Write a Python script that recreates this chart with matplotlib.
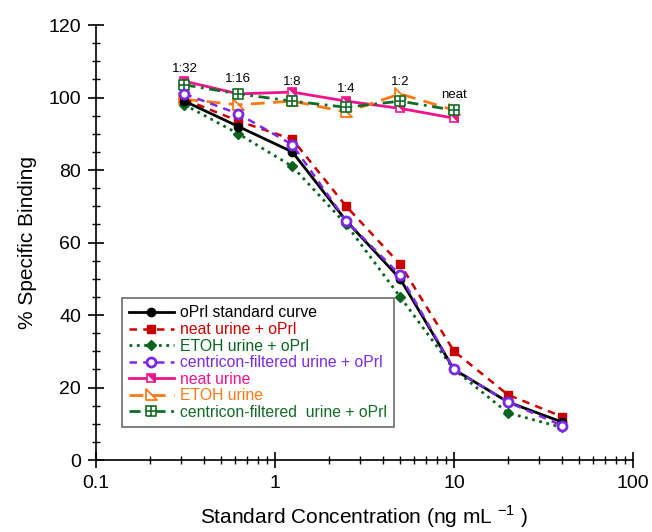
import numpy as np
import matplotlib
matplotlib.use('Agg')
import matplotlib.pyplot as plt
from matplotlib.path import Path
from matplotlib.legend_handler import HandlerTuple
from matplotlib.ticker import MultipleLocator, LogLocator, NullFormatter, FixedLocator, FixedFormatter

plt.rcParams['font.family'] = ['Liberation Sans', 'DejaVu Sans']
plt.rcParams['mathtext.fontset'] = 'custom'
plt.rcParams['mathtext.rm'] = 'Liberation Sans'

conc = [0.3125, 0.625, 1.25, 2.5, 5, 10, 20, 40]
conc_dil = [0.3125, 0.625, 1.25, 2.5, 5, 10]
dil_labels = ['1:32', '1:16', '1:8', '1:4', '1:2', 'neat']
dil_label_y = [107.8, 105.1, 104.2, 102.3, 104.2, 100.6]

std_curve = [99, 92, 85, 66, 50, 25, 16, 10.5]
neat_oprl = [99.5, 93.5, 88.5, 70, 54, 30, 18, 12]
etoh_oprl = [98, 90, 81, 65, 45, 25, 13, 9]
centri_oprl = [101, 95.5, 87, 66, 51, 25, 16, 9.5]
neat_urine = [104.5, 101, 101.5, 99, 97, 94.3]
etoh_urine = [99.5, 98, 99, 96, 101, 96.5]
centri_urine = [103.5, 101, 99, 97.3, 99, 96.5]

labels = ['oPrl standard curve', 'neat urine + oPrl', 'ETOH urine + oPrl',
          'centricon-filtered urine + oPrl', 'neat urine', 'ETOH urine',
          'centricon-filtered  urine + oPrl']

c_black = 'black'
c_red = '#c80000'
c_dgreen = '#0a6420'
c_purple = '#7a2ae6'
c_pink = '#f0148c'
c_orange = '#ff7814'
c_green2 = '#126b26'

# custom markers
tri = Path([(-0.5, 0.6), (-0.5, -0.5), (0.6, -0.5), (-0.5, 0.6)],
           [Path.MOVETO, Path.LINETO, Path.LINETO, Path.CLOSEPOLY])
half_sq = Path([(-1, 1), (1, 1), (1, -1), (-1, 1)],
               [Path.MOVETO, Path.LINETO, Path.LINETO, Path.CLOSEPOLY])
sq_plus = Path([(-1, -1), (1, -1), (1, 1), (-1, 1), (-1, -1),
                (0, -1), (0, 1), (-1, 0), (1, 0)],
               [Path.MOVETO, Path.LINETO, Path.LINETO, Path.LINETO, Path.LINETO,
                Path.MOVETO, Path.LINETO, Path.MOVETO, Path.LINETO])

fig = plt.figure(figsize=(6.52, 5.32), dpi=100)
ax = fig.add_axes([0.147, 0.1353, 0.824, 0.8177])

h1, = ax.plot(conc, std_curve, '-', color=c_black, lw=2, marker='o', ms=6, zorder=5)
h2, = ax.plot(conc, neat_oprl, '--', color=c_red, lw=1.8, marker='s', ms=6, dashes=(3, 2.5), zorder=4)
h3, = ax.plot(conc, etoh_oprl, ':', color=c_dgreen, lw=2, marker='D', ms=5.5, zorder=4)
h4, = ax.plot(conc, centri_oprl, '--', color=c_purple, lw=1.8, marker='o', ms=6.5, mfc='white', mec=c_purple,
              mew=2, dashes=(3, 2.5), zorder=6)
h5, = ax.plot(conc_dil, neat_urine, '-', color=c_pink, lw=2, marker='s', ms=6,
              mfc='white', mec=c_pink, mew=1.2, zorder=3)
h5b, = ax.plot(conc_dil, neat_urine, ls='none', marker=half_sq, ms=5.5, mfc=c_pink, mec=c_pink, mew=0.5, zorder=3)
h6, = ax.plot(conc_dil, etoh_urine, '--', color=c_orange, lw=2, marker=tri, ms=8.5, mfc='white', mec=c_orange,
              mew=1.3, dashes=(5, 3), zorder=3)
h7, = ax.plot(conc_dil, centri_urine, '-.', color=c_green2, lw=2, marker=sq_plus, ms=6.5, mfc='white', mec=c_green2,
              mew=1.2, dashes=(4, 2, 1, 2), zorder=3)

for xv, yv, t in zip(conc_dil, dil_label_y, dil_labels):
    ax.text(xv, yv, t, ha='center', va='center', fontsize=9.5)

ax.set_xscale('log')
ax.set_xlim(0.1, 100)
ax.set_ylim(0, 120)
ax.spines['top'].set_visible(False)
ax.spines['right'].set_visible(False)
ax.spines['left'].set_linewidth(1.2)
ax.spines['bottom'].set_linewidth(1.2)
ax.yaxis.set_major_locator(MultipleLocator(20))
ax.yaxis.set_minor_locator(MultipleLocator(5))
ax.xaxis.set_major_locator(FixedLocator([0.1, 1, 10, 100]))
ax.xaxis.set_major_formatter(FixedFormatter(['0.1', '1', '10', '100']))
ax.xaxis.set_minor_locator(LogLocator(base=10, subs=np.arange(2, 10)))
ax.xaxis.set_minor_formatter(NullFormatter())
ax.tick_params(which='major', direction='inout', length=11.5, width=1.2, labelsize=14, pad=5)
ax.tick_params(which='minor', direction='inout', length=6, width=1)
ax.set_xlabel('Standard Concentration (ng mL $^{\\mathregular{-1}}$ )', fontsize=15, labelpad=8)
ax.set_ylabel('% Specific Binding', fontsize=15, labelpad=8)

handles = [h1, h2, h3, h4, (h5, h5b), h6, h7]
leg = ax.legend(handles, labels, loc='lower left', bbox_to_anchor=(0.048, 0.076), fontsize=11.3, frameon=True,
                fancybox=False, edgecolor='#444444', handlelength=2.9, borderpad=0.45,
                labelspacing=0.1, handletextpad=0.35, borderaxespad=0,
                handler_map={tuple: HandlerTuple(ndivide=1, pad=0)})
leg.get_frame().set_linewidth(1.2)
for txt, col in zip(leg.get_texts(), [c_black, c_red, c_dgreen, c_purple, c_pink, c_orange, c_green2]):
    txt.set_color(col)

fig.savefig('out.png', dpi=100)
